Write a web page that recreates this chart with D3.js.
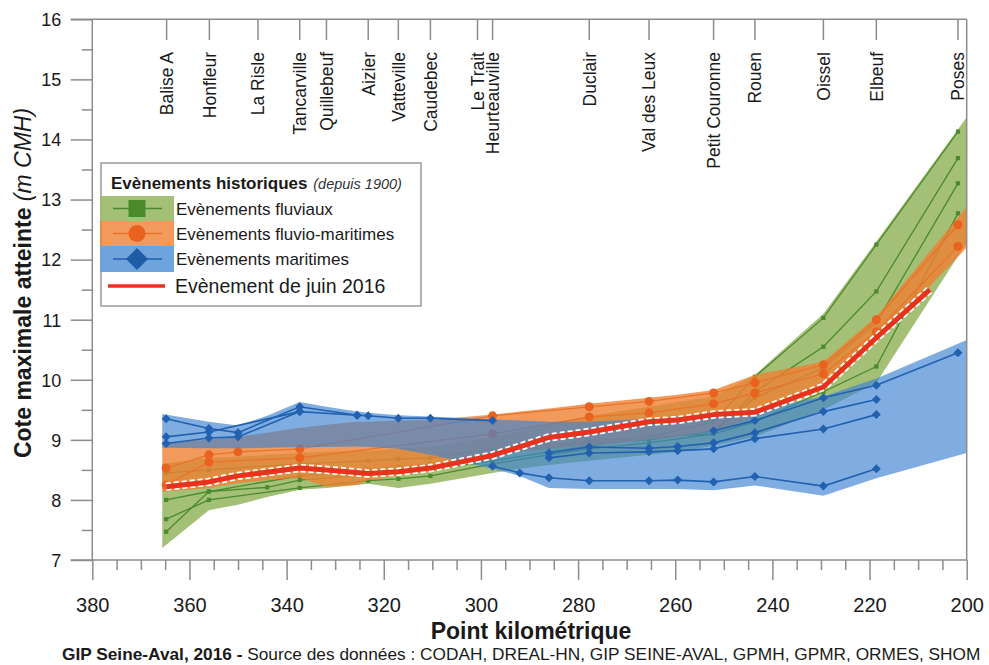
<!DOCTYPE html>
<html><head><meta charset="utf-8">
<script src="https://cdn.jsdelivr.net/npm/d3@7"></script>
<style>body{margin:0;background:#fff;} svg{display:block;font-family:"Liberation Sans",Arial,sans-serif;}</style>
</head><body><svg id="c" width="989" height="665"></svg>
<script>
// ---------- data ----------
const xTicks = [380,360,340,320,300,280,260,240,220,200];
const yTicks = [7,8,9,10,11,12,13,14,15,16];
const stationNames = ["Balise A","Honfleur","La Risle","Tancarville","Quillebeuf","Aizier","Vatteville","Caudebec","Le Trait","Heurteauville","Duclair","Val des Leux","Petit Couronne","Rouen","Oissel","Elbeuf","Poses"];
const stationPk = [364.7,355.9,345.9,337.3,331.8,323.2,317.0,310.4,300.7,297.6,277.7,265.4,252.1,243.6,229.5,218.6,201.8];

// measurement points (km)
const pk     = [364.8,356,350,344,337.3,331.8,325.5,323.2,317,310.4,297.6,292,286,277.7,265.4,259.5,252.1,243.6,229.5,218.6,201.8];
const bandPk = [365.6,356,350,344,337.3,331.8,325.5,323.2,317,310.4,297.6,292,286,277.7,265.4,259.5,252.1,243.6,229.5,218.6,200];

// envelopes (m CMH)
const fluvialUpper  = [8.6,8.7,8.72,8.75,8.78,8.8,8.82,8.82,8.85,8.88,9.05,9.15,9.25,9.4,9.55,9.63,9.72,10.08,11.1,12.3,14.37];
const fluvialLower  = [7.2,7.83,7.92,8.05,8.17,8.2,8.25,8.27,8.2,8.27,8.45,8.52,8.58,8.65,8.75,8.8,8.9,9.05,9.5,9.95,12.28];
const fluvioUpper   = [8.95,9.0,9.05,9.12,9.2,9.25,9.3,9.3,9.32,9.33,9.42,9.47,9.52,9.6,9.7,9.75,9.83,10.08,10.3,11.05,12.88];
const fluvioLower   = [8.13,8.2,8.28,8.33,8.37,8.22,8.25,8.33,8.4,8.47,8.7,8.8,8.85,8.9,9.0,9.05,9.15,9.38,9.82,10.62,12.2];
const maritimeUpper = [9.43,9.3,9.24,9.4,9.63,9.55,9.47,9.45,9.41,9.39,9.34,9.32,9.3,9.3,9.35,9.38,9.4,9.5,9.72,10.02,10.66];
const maritimeLower = [8.87,8.86,8.86,8.87,8.88,8.88,8.89,8.88,8.85,8.75,8.52,8.4,8.2,8.18,8.18,8.18,8.16,8.24,8.07,8.36,8.78];

// individual historical events
const fluvial1 = [8.0,8.14,null,8.21,8.33,null,null,8.42,8.45,8.5,8.65,null,8.8,8.9,9.05,null,9.3,10.05,11.03,12.25,14.13];
const fluvial2 = [7.68,8.0,null,null,8.2,null,null,8.32,8.35,8.4,8.6,null,8.75,8.85,8.95,null,9.1,9.8,10.55,11.47,13.69];
const fluvial3 = [7.47,8.14,null,null,8.4,null,null,8.5,8.55,8.6,8.78,null,8.88,8.95,9.0,null,9.15,9.7,10.2,10.95,13.27];
const fluvial4 = [8.45,8.5,null,null,8.6,null,null,8.65,8.68,8.7,8.85,null,8.92,8.98,9.05,null,9.1,9.3,9.8,10.22,12.77];
const fluvio1  = [8.53,8.75,8.8,null,8.85,null,null,null,null,null,9.4,null,null,9.55,9.64,null,9.78,9.95,10.25,11.0,12.58];
const fluvio2  = [8.25,8.63,null,null,8.7,null,null,null,null,null,9.1,null,null,9.38,9.45,null,9.6,9.78,10.1,10.8,12.22];
const maritime1 = [9.35,9.19,9.12,null,9.55,null,9.41,9.40,9.36,9.36,9.32,null,null,null,null,null,null,null,null,null,null];
const maritime2 = [9.05,9.13,null,null,9.47,null,9.41,null,null,null,null,null,null,null,null,null,null,null,null,null,null];
const maritime3 = [8.94,9.03,9.05,null,9.47,null,null,null,null,null,null,null,null,null,null,null,null,null,null,null,null];
const maritime4 = [null,null,null,null,null,null,null,null,null,null,null,null,null,null,null,null,9.15,9.32,9.7,9.91,10.45];
const maritime5 = [null,null,null,null,null,null,null,null,null,null,null,null,8.78,8.88,8.86,8.89,8.95,9.12,9.47,9.67,null];
const maritime6 = [null,null,null,null,null,null,null,null,null,null,null,null,8.7,8.78,8.8,8.82,8.85,9.02,9.18,9.42,null];
const maritime7 = [null,null,null,null,null,null,null,null,null,null,8.56,8.45,8.37,8.32,8.32,8.33,8.3,8.39,8.23,8.52,null];

// June 2016 event
const junePk = [364.8,356,350,337.3,331.8,323.2,317,310.4,297.6,286,277.7,265.4,259.5,252.1,243.6,229.5,218.6,207.6];
const june2016 = [8.22,8.3,8.4,8.53,8.5,8.44,8.47,8.53,8.74,9.04,9.13,9.3,9.33,9.42,9.46,9.88,10.7,11.5];

const legendTitle = "Evènements historiques";
const legendSub = "(depuis 1900)";
const legendLabels = ["Evènements fluviaux","Evènements fluvio-maritimes","Evènements maritimes","Evènement de juin 2016"];

// ---------- drawing ----------
const svg = d3.select("#c");
const L = 92.3, R = 966.7, T = 19.3, B = 560;
const x = d3.scaleLinear().domain([380,200]).range([L,R]);
const y = d3.scaleLinear().domain([7,16]).range([B,T]);
const axisCol = "#8c8c8c";

const col = {
  gBand:"#9cba6a", gLine:"#4a8a2c",
  oBand:"#ee8133", oLine:"#e8742a", oMark:"#ea6220",
  bBand:"#3d82d1", bLine:"#2260b0",
  red:"#e8321e"
};

svg.append("defs").append("clipPath").attr("id","clip")
  .append("rect").attr("x",L).attr("y",T).attr("width",R-L).attr("height",B-T);
const plot = svg.append("g").attr("clip-path","url(#clip)");

function band(upper, lower, fill, op){
  const d = bandPk.map((k,i)=>({k, u:upper[i], l:lower[i]}));
  const area = d3.area().x(p=>x(p.k)).y0(p=>y(p.l)).y1(p=>y(p.u));
  plot.append("path").attr("d",area(d)).attr("fill",fill).attr("fill-opacity",op);
}
function pts(vals, ks){ return (ks||pk).map((k,i)=>[k,vals[i]]).filter(p=>p[1]!=null); }
const line = d3.line().x(p=>x(p[0])).y(p=>y(p[1]));
function series(vals, stroke, w, marker){
  const p = pts(vals);
  plot.append("path").attr("d",line(p)).attr("fill","none").attr("stroke",stroke).attr("stroke-width",w);
  const g = plot.append("g");
  p.forEach(q=>marker(g, x(q[0]), y(q[1])));
}
const sq = (s,c)=>(g,cx,cy)=>g.append("rect").attr("x",cx-s/2).attr("y",cy-s/2).attr("width",s).attr("height",s).attr("fill",c);
const circ = (r,c)=>(g,cx,cy)=>g.append("circle").attr("cx",cx).attr("cy",cy).attr("r",r).attr("fill",c);
const diam = (h,c)=>(g,cx,cy)=>g.append("path").attr("d",`M${cx},${cy-h}L${cx+h},${cy}L${cx},${cy+h}L${cx-h},${cy}Z`).attr("fill",c);

band(fluvialUpper, fluvialLower, col.gBand, 0.92);
[fluvial1,fluvial2,fluvial3,fluvial4].forEach(s=>series(s,col.gLine,1.3,sq(4.2,col.gLine)));
band(fluvioUpper, fluvioLower, col.oBand, 0.8);
[fluvio1,fluvio2].forEach(s=>series(s,col.oLine,1.3,circ(4.5,col.oMark)));
band(maritimeUpper, maritimeLower, col.bBand, 0.66);
[maritime1,maritime2,maritime3,maritime4,maritime5,maritime6,maritime7].forEach(s=>series(s,col.bLine,1.6,diam(4.5,col.bLine)));

const jp = pts(june2016, junePk);
plot.append("path").attr("d",line(jp)).attr("fill","none").attr("stroke","#fff").attr("stroke-width",8.5).attr("stroke-dasharray","5,3").attr("stroke-linejoin","round");
plot.append("path").attr("d",line(jp)).attr("fill","none").attr("stroke",col.red).attr("stroke-width",5).attr("stroke-linejoin","round");

// ---------- axes / frame ----------
const ax = svg.append("g").attr("stroke",axisCol).attr("stroke-width",1.5).attr("fill","none");
ax.append("line").attr("x1",70.7).attr("x2",R).attr("y1",T).attr("y2",T);
ax.append("line").attr("x1",70.7).attr("x2",R).attr("y1",B).attr("y2",B);
ax.append("line").attr("x1",L).attr("x2",L).attr("y1",T).attr("y2",B);
ax.append("line").attr("x1",R).attr("x2",R).attr("y1",T).attr("y2",B);

const xMinor = d3.range(200,381,5).filter(v=>v%20!==0);
const xAx = svg.append("g").attr("transform",`translate(0,${B})`)
  .call(d3.axisBottom(x).tickValues(xTicks).tickSize(20).tickFormat(d3.format("d")));
xAx.select(".domain").remove();
xAx.selectAll(".tick line").attr("stroke",axisCol).attr("stroke-width",1.5);
xAx.selectAll(".tick text").attr("font-size",20).attr("fill","#1a1a1a").attr("dy",0).attr("y",52)
  .attr("font-family","Liberation Sans, Arial, sans-serif");
const xAx2 = svg.append("g").attr("transform",`translate(0,${B})`)
  .call(d3.axisBottom(x).tickValues(xMinor).tickSize(10).tickFormat(""));
xAx2.select(".domain").remove();
xAx2.selectAll(".tick line").attr("stroke",axisCol).attr("stroke-width",1.5);

const yMinor = d3.range(7.5,16,1);
const yAx = svg.append("g").attr("transform",`translate(${L},0)`)
  .call(d3.axisLeft(y).tickValues(yTicks).tickSize(21.6).tickFormat(d3.format("d")));
yAx.select(".domain").remove();
yAx.selectAll(".tick line").attr("stroke",axisCol).attr("stroke-width",1.5);
yAx.selectAll(".tick text").attr("font-size",18).attr("fill","#1a1a1a").attr("x",-31).attr("dy","0.35em")
  .attr("font-family","Liberation Sans, Arial, sans-serif");
const yAx2 = svg.append("g").attr("transform",`translate(${L},0)`)
  .call(d3.axisLeft(y).tickValues(yMinor).tickSize(10.6).tickFormat(""));
yAx2.select(".domain").remove();
yAx2.selectAll(".tick line").attr("stroke",axisCol).attr("stroke-width",1.5);

// stations along top
const st = svg.append("g");
stationPk.forEach((k,i)=>{
  st.append("line").attr("x1",x(k)).attr("x2",x(k)).attr("y1",T).attr("y2",40).attr("stroke",axisCol).attr("stroke-width",1.5);
  st.append("text").attr("transform",`translate(${x(k)},52) rotate(-90)`).attr("text-anchor","end")
    .attr("dy","0.36em").attr("font-size",17.5).attr("fill","#1a1a1a").text(stationNames[i]);
});

// axis titles
svg.append("text").attr("x",531).attr("y",639).attr("text-anchor","middle").attr("font-size",23)
  .attr("font-weight","bold").attr("fill","#1a1a1a").text("Point kilométrique");
const yl = svg.append("text").attr("transform","translate(31,283) rotate(-90)").attr("text-anchor","middle")
  .attr("font-size",23).attr("fill","#1a1a1a");
yl.append("tspan").attr("font-weight","bold").text("Cote maximale atteinte ");
yl.append("tspan").attr("font-style","italic").text("(m CMH)");

// caption
const cap = svg.append("text").attr("transform","translate(62,660) scale(1.08,1)").attr("font-size",16).attr("fill","#1a1a1a");
cap.append("tspan").attr("font-weight","bold").text("GIP Seine-Aval, 2016 - ");
cap.append("tspan").text("Source des données : CODAH, DREAL-HN, GIP SEINE-AVAL, GPMH, GPMR, ORMES, SHOM");

// ---------- legend ----------
const lg = svg.append("g");
lg.append("rect").attr("x",101).attr("y",163).attr("width",320).attr("height",143)
  .attr("fill","#fff").attr("stroke","#9a9a9a").attr("stroke-width",1.5);
const lt = lg.append("text").attr("x",111).attr("y",189).attr("fill","#1a1a1a");
lt.append("tspan").attr("font-weight","bold").attr("font-size",17).text(legendTitle+" ");
lt.append("tspan").attr("font-style","italic").attr("font-size",14.5).attr("fill","#333").attr("dx",1).text(legendSub);

const rows = [
  {y0:196, h:25, fill:col.gBand, op:0.92, lc:col.gLine, m:sq(17,col.gLine)},
  {y0:221, h:25, fill:col.oBand, op:0.8, lc:col.oLine, m:circ(8.5,col.oMark)},
  {y0:246, h:26, fill:"#6fa3dc", op:1, lc:col.bLine, m:diam(11,"#1f5ca8")}
];
rows.forEach((r,i)=>{
  lg.append("rect").attr("x",100).attr("y",r.y0).attr("width",74).attr("height",r.h).attr("fill",r.fill).attr("fill-opacity",r.op);
  const cy = r.y0 + r.h/2;
  lg.append("line").attr("x1",113).attr("x2",162).attr("y1",cy).attr("y2",cy).attr("stroke",r.lc).attr("stroke-width",1.5);
  r.m(lg,137,cy);
  lg.append("text").attr("x",176).attr("y",cy+6).attr("font-size",17).attr("fill","#1a1a1a").text(legendLabels[i]);
});
lg.append("line").attr("x1",108).attr("x2",165).attr("y1",286).attr("y2",286).attr("stroke",col.red).attr("stroke-width",3.5);
lg.append("text").attr("x",175).attr("y",293).attr("font-size",19.5).attr("fill","#1a1a1a").text(legendLabels[3]);
</script>
</body></html>
